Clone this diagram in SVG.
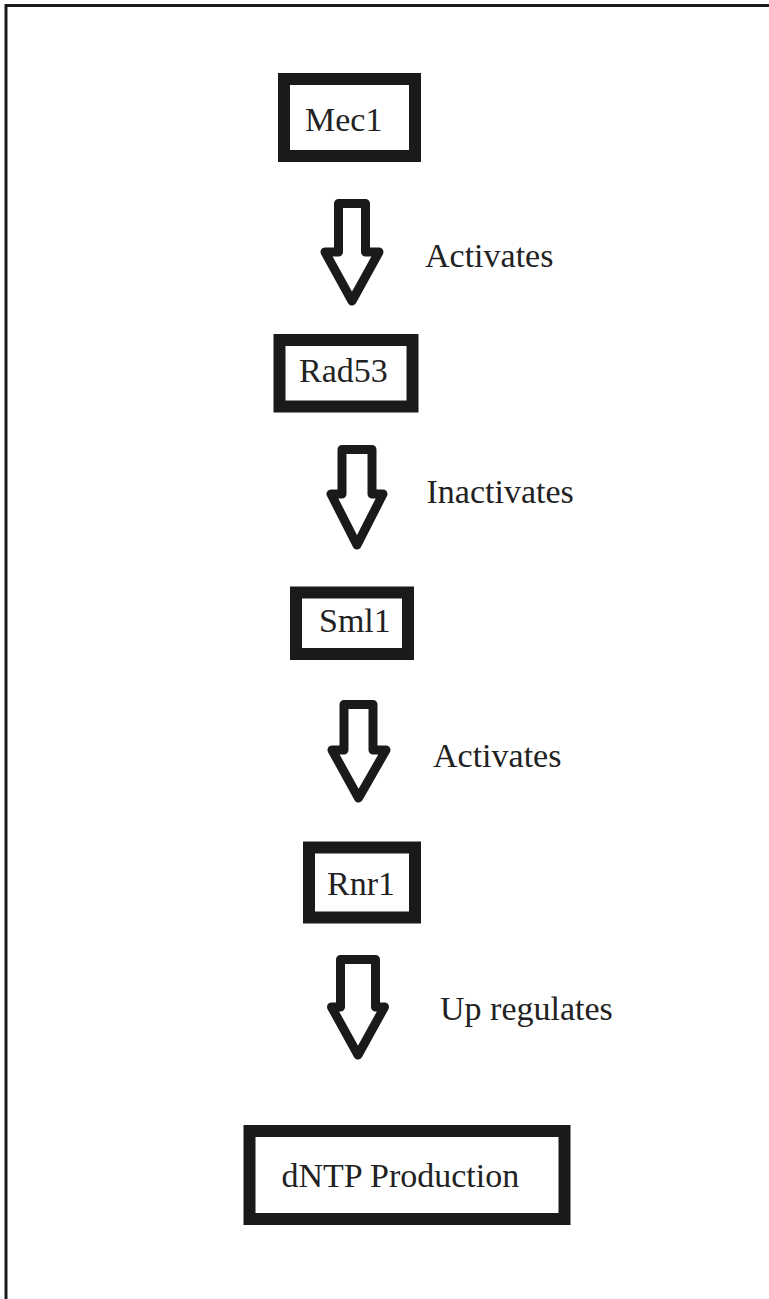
<svg xmlns="http://www.w3.org/2000/svg" width="769" height="1299" viewBox="0 0 769 1299">
<style>
.frame{fill:none;stroke:#1a1a1a;stroke-width:3}
.box{fill:#fff;stroke:#1a1a1a;stroke-width:12}
.arrow{fill:#fff;stroke:#1a1a1a;stroke-width:9;stroke-linejoin:round}
.t{font-family:"Liberation Serif","Times New Roman","DejaVu Serif",serif;font-size:34px;fill:#222}
</style>
<rect width="769" height="1299" fill="#fff"/>
<path class="frame" d="M6,1299 V5.5 H769"/>
<g id="mec1"><rect class="box" x="284" y="79" width="131" height="77"/><text class="t" x="305" y="130.5">Mec1</text></g>
<g id="rad53"><rect class="box" x="279.5" y="340" width="133" height="66.5"/><text class="t" x="299" y="381.5">Rad53</text></g>
<g id="sml1"><rect class="box" x="296" y="592.5" width="112" height="61.5"/><text class="t" x="319" y="631.5">Sml1</text></g>
<g id="rnr1"><rect class="box" x="309" y="847.5" width="106" height="70"/><text class="t" x="327" y="895">Rnr1</text></g>
<g id="dntp"><rect class="box" x="249.5" y="1131" width="315" height="88"/><text class="t" x="281.5" y="1186.5">dNTP Production</text></g>
<g id="connectors">
<polygon class="arrow" points="338.5,203.5 365.5,203.5 365.5,252 379,252 352,301 325,252 338.5,252"/>
<polygon class="arrow" points="342,449.5 372,449.5 372,494 383,494 357,545 331,494 342,494"/>
<polygon class="arrow" points="344,704.5 373,704.5 373,750 386,750 358.5,798 332,750 344,750"/>
<polygon class="arrow" points="340.5,959.5 375.5,959.5 375.5,1007 384.5,1007 358,1055 331.5,1007 340.5,1007"/>
<text class="t" x="425" y="266.5">Activates</text>
<text class="t" x="426.5" y="503">Inactivates</text>
<text class="t" x="433" y="767">Activates</text>
<text class="t" x="440" y="1020">Up regulates</text>
</g>
</svg>
